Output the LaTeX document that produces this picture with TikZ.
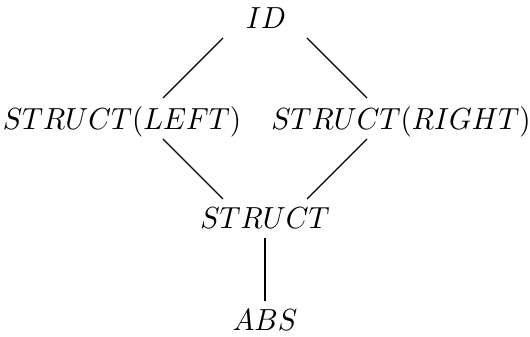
\documentclass[tikz,border=0pt]{standalone}
\usepackage{graphicx}
\usetikzlibrary{calc}
\newcommand{\biglab}[1]{\scalebox{2.9}[3.05]{$#1$}}
\begin{document}
\begin{tikzpicture}[x=1pt,y=1pt,
  lab/.style={inner sep=0pt, anchor=base},
  edge/.style={line width=1.1pt}]
\useasboundingbox (0,0) rectangle (530,337);
\node[lab] (id) at (266,308) {\biglab{ID}};
\node[lab] (l) at (122,207) {\biglab{STRUCT(LEFT)}};
\node[lab] (r) at (401,207) {\biglab{STRUCT(RIGHT)}};
\node[lab] (s) at (265,108) {\biglab{STRUCT}};
\node[lab] (a) at (265,6) {\biglab{ABS}};
\draw[edge] ($(id.base)+(-43,-9)$) -- ($(l.base)+(41,32)$);
\draw[edge] ($(id.base)+(41,-9)$) -- ($(r.base)+(-34,32)$);
\draw[edge] ($(l.base)+(41,-9)$) -- ($(s.base)+(-42,30)$);
\draw[edge] ($(r.base)+(-34,-9)$) -- ($(s.base)+(42,30)$);
\draw[edge] ($(s.base)+(0,-9)$) -- ($(a.base)+(0,30)$);
\end{tikzpicture}
\end{document}
